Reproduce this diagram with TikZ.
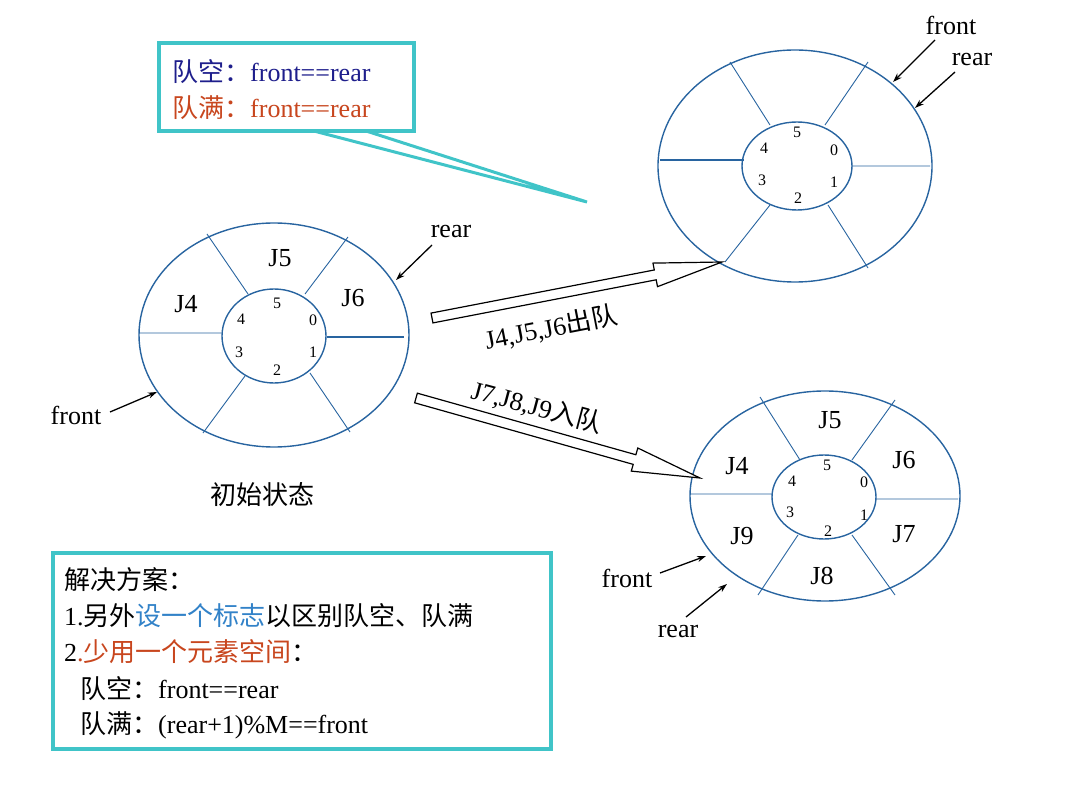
\documentclass[tikz,border=0pt]{standalone}
\usepackage{fontspec}
\setmainfont{Liberation Serif}
\newfontfamily\cjk{Noto Sans CJK SC}
\usetikzlibrary{calc,arrows.meta}
\definecolor{ring}{RGB}{40,100,160}
\definecolor{teal}{RGB}{64,196,200}
\definecolor{dblue}{RGB}{30,30,140}
\definecolor{ored}{RGB}{200,70,30}
\definecolor{lblue}{RGB}{50,130,200}
\tikzset{
 ringline/.style={draw=ring,line width=1.4pt},
 thin spoke/.style={draw=ring,line width=0.9pt},
 thick spoke/.style={draw=ring,line width=2pt},
 ptr/.style={-{Stealth[length=9pt,width=6pt]},line width=1.3pt},
 lbl/.style={font=\fontsize{26}{30}\selectfont,inner sep=0pt},
 dig/.style={font=\fontsize{16}{18}\selectfont,inner sep=0pt},
 big/.style={draw=black,line width=1.2pt,fill=white},
}
\newcommand{\hollowarrow}[2]{%
 \coordinate (h) at ($(#2)!68pt!(#1)$);
 \draw[big] ($(#1)!5pt!90:(#2)$) -- ($(h)!5pt!-90:(#1)$) -- ($(h)!12pt!-90:(#1)$) -- (#2) -- ($(h)!12pt!90:(#1)$) -- ($(h)!5pt!90:(#1)$) -- ($(#1)!5pt!-90:(#2)$) -- cycle;}
\begin{document}
\begin{tikzpicture}[x=1pt,y=-1pt]
\useasboundingbox (0,0) rectangle (1080,810);
% left ring
\draw[ringline] (274,335) ellipse [x radius=135,y radius=112];
\draw[ringline] (274,336) ellipse [x radius=52,y radius=47];
\draw[thin spoke] (248,294)--(207,234) (305,294)--(348,237) (245,376)--(203,433) (310,373)--(350,432) (139,333)--(221,333);
\draw[thick spoke] (327,337)--(404,337);
\node[lbl] (l5) at (280,258) {J5};
\node[lbl] (l4) at (186,304) {J4};
\node[lbl] (l6) at (353,298) {J6};
\node[dig] at (277,303) {5};\node[dig] at (241,319) {4};\node[dig] at (313,320) {0};
\node[dig] at (239,352) {3};\node[dig] at (313,352) {1};\node[dig] at (277,370) {2};
% top right ring
\draw[ringline] (795,166) ellipse [x radius=137,y radius=116];
\draw[ringline] (797,166) ellipse [x radius=55,y radius=44];
\draw[thin spoke] (770,125)--(730,62) (825,125)--(868,62) (770,205)--(725,262) (828,205)--(868,268) (852,166)--(930,166);
\draw[thick spoke] (660,160)--(744,160);
\node[dig] at (797,132) {5};\node[dig] at (764,148) {4};\node[dig] at (834,150) {0};
\node[dig] at (762,180) {3};\node[dig] at (834,182) {1};\node[dig] at (798,198) {2};
% bottom right ring
\draw[ringline] (825,496) ellipse [x radius=135,y radius=105];
\draw[ringline] (824,497) ellipse [x radius=52,y radius=42];
\draw[thin spoke] (800,460)--(760,397) (852,460)--(895,400) (798,535)--(758,595) (852,535)--(895,595) (690,494)--(772,494) (876,499)--(958,499);
\node[lbl] at (830,420) {J5};\node[lbl] at (737,466) {J4};\node[lbl] at (904,460) {J6};
\node[lbl] at (742,536) {J9};\node[lbl] at (904,534) {J7};\node[lbl] at (822,576) {J8};
\node[dig] at (827,465) {5};\node[dig] at (792,481) {4};\node[dig] at (864,482) {0};
\node[dig] at (790,512) {3};\node[dig] at (864,515) {1};\node[dig] at (828,531) {2};
% hollow arrows
\coordinate (a1) at (432,318); \coordinate (b1) at (722,262);
\hollowarrow{a1}{b1}
\coordinate (a2) at (416,398); \coordinate (b2) at (700,478);
\hollowarrow{a2}{b2}
\node[lbl,rotate=11] (t1) at (551,328) {J4,J5,J6{\cjk 出队}};
\node[lbl,rotate=-15] (t2) at (537,407) {J7,J8,J9{\cjk 入队}};
% pointer labels
\node[lbl] (rearL) at (451,232) {rear};
\node[lbl] (frontL) at (76,415) {front};
\draw[ptr] (432,245)--(396,280);
\draw[ptr] (110,412)--(157,392);
\node[lbl] (frontT) at (951,25) {front};
\node[lbl] (rearT) at (972,60) {rear};
\draw[ptr] (935,40)--(893,82);
\draw[ptr] (955,72)--(915,108);
\node[lbl] (frontB) at (627,578) {front};
\node[lbl] (rearB) at (678,632) {rear};
\draw[ptr] (660,573)--(706,556);
\draw[ptr] (686,617)--(727,584);
\node[lbl] (init) at (262,495) {\cjk 初始状态};
% callout
\draw[teal,line width=3pt] (310,130)--(587,202)--(363,130);
\draw[teal,line width=4pt,fill=white] (159,43) rectangle (414,131);
\node[lbl,anchor=west,text=dblue] (c1) at (172,72) {{\cjk 队空：}front==rear};
\node[lbl,anchor=west,text=ored] (c2) at (172,108) {{\cjk 队满：}front==rear};
% solution box
\draw[teal,line width=4pt] (53,553) rectangle (551,749);
\node[lbl,anchor=west] (s1) at (64,580) {\cjk 解决方案：};
\node[lbl,anchor=west] (s2) at (64,616) {1.{\cjk 另外\textcolor{lblue}{设一个标志}以区别队空、队满}};
\node[lbl,anchor=west] (s3) at (64,652) {2\textcolor{ored}{.{\cjk 少用一个元素空间}}{\cjk ：}};
\node[lbl,anchor=west] (s4) at (80,689) {{\cjk 队空：}front==rear};
\node[lbl,anchor=west] (s5) at (80,725) {{\cjk 队满：}(rear+1)\%M==front};
\end{tikzpicture}
\end{document}
